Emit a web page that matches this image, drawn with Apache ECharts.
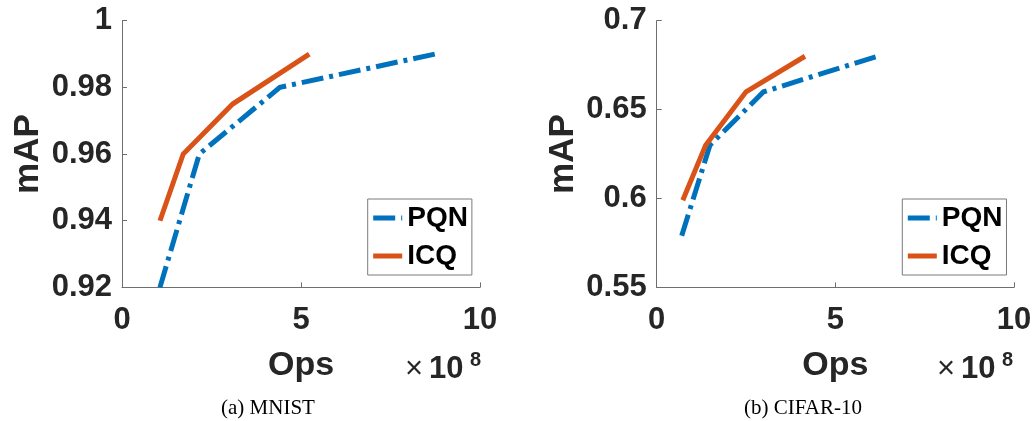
<!DOCTYPE html>
<html>
<head>
<meta charset="utf-8">
<script src="https://cdn.jsdelivr.net/npm/echarts@6/dist/echarts.min.js"></script>
<style>
html,body{margin:0;padding:0;background:#fff;}
#chart{width:1036px;height:421px;}
</style>
</head>
<body>
<div id="chart"></div>
<script>
// ---- data ----
const xTickLabels = ['0', '5', '10'];
const mnistPqnOps = [1.06, 2.16, 4.41, 8.74];
const mnistPqnMap = [0.92, 0.96, 0.98, 0.99];
const mnistIcqOps = [1.06, 1.71, 3.09, 5.23];
const mnistIcqMap = [0.94, 0.96, 0.975, 0.99];
const cifarPqnOps = [0.70, 1.49, 2.99, 6.18];
const cifarPqnMap = [0.579, 0.63, 0.66, 0.68];
const cifarIcqOps = [0.73, 1.37, 2.50, 4.15];
const cifarIcqMap = [0.599, 0.63, 0.66, 0.68];
const seriesNames = ['PQN', 'ICQ'];
const captions = ['(a) MNIST', '(b) CIFAR-10'];

const zip = (a, b) => a.map((v, i) => [v, b[i]]);
const SANS = "'Liberation Sans', Arial, Helvetica, sans-serif";
const TXT = '#262626';
const AX = '#6e6e6e';
const BLUE = '#0072BD';
const ORANGE = '#D95319';
const DASH = [22, 6, 4, 6];
const LW = 5;

function xAxisCfg(gridIndex) {
  return {
    type: 'value', gridIndex, min: 0, max: 10, interval: 5,
    name: 'Ops', nameLocation: 'middle', nameGap: 61,
    nameTextStyle: {fontFamily: SANS, fontWeight: 'bold', fontSize: 34, color: TXT},
    axisLine: {show: true, onZero: false, lineStyle: {color: AX, width: 1}},
    axisTick: {show: true, inside: true, length: 5, lineStyle: {color: AX}},
    axisLabel: {fontFamily: SANS, fontWeight: 'bold', fontSize: 31, color: TXT, margin: 18,
      formatter: v => xTickLabels[Math.round(v / 5)]},
    splitLine: {show: false}
  };
}
function yAxisCfg(gridIndex, min, max, interval) {
  return {
    type: 'value', gridIndex, min, max, interval,
    name: 'mAP', nameLocation: 'middle', nameGap: 76, nameRotate: 90,
    nameTextStyle: {fontFamily: SANS, fontWeight: 'bold', fontSize: 35, color: TXT},
    axisLine: {show: true, onZero: false, lineStyle: {color: AX, width: 1}},
    axisTick: {show: true, inside: true, length: 5, lineStyle: {color: AX}},
    axisLabel: {fontFamily: SANS, fontWeight: 'bold', fontSize: 31, color: TXT, margin: 10,
      formatter: v => String(+v.toFixed(2))},
    splitLine: {show: false}
  };
}
function lineSeries(name, xi, data, color, dashed) {
  return {
    type: 'line', name, xAxisIndex: xi, yAxisIndex: xi, data,
    symbol: 'none', animation: false, silent: true,
    lineStyle: {color, width: LW, type: dashed ? DASH : 'solid', cap: 'butt', join: 'miter'},
    itemStyle: {color}
  };
}
function legendCfg(left) {
  return {
    orient: 'vertical', left, top: 199, data: seriesNames,
    backgroundColor: '#fff', borderColor: '#7a7a7a', borderWidth: 1,
    padding: [5, 4, 5, 3], itemGap: 10, itemWidth: 29, itemHeight: 14,
    selectedMode: false,
    itemStyle: {opacity: 0},
    lineStyle: {width: LW},
    textStyle: {fontFamily: SANS, fontWeight: 'bold', fontSize: 28, color: '#000'}
  };
}
function expo(x10, y) {
  return [
    {type: 'text', left: x10 - 24, top: y - 16, style: {text: '×', font: 'normal 31px ' + SANS, fill: TXT}},
    {type: 'text', left: x10, top: y - 16, style: {text: '10', font: 'bold 31px ' + SANS, fill: TXT}},
    {type: 'text', left: x10 + 41, top: y - 20, style: {text: '8', font: 'bold 20px ' + SANS, fill: TXT}}
  ];
}

const chart = echarts.init(document.getElementById('chart'), null, {renderer: 'canvas'});
chart.setOption({
  animation: false,
  backgroundColor: '#fff',
  grid: [
    {left: 122, top: 20.7, width: 358, height: 266.7},
    {left: 656.7, top: 20.7, width: 357.3, height: 266.7}
  ],
  xAxis: [xAxisCfg(0), xAxisCfg(1)],
  yAxis: [yAxisCfg(0, 0.92, 1, 0.02), yAxisCfg(1, 0.55, 0.7, 0.05)],
  legend: [legendCfg(367.7), legendCfg(902.3)],
  series: [
    lineSeries('PQN', 0, zip(mnistPqnOps, mnistPqnMap), BLUE, true),
    lineSeries('ICQ', 0, zip(mnistIcqOps, mnistIcqMap), ORANGE, false),
    lineSeries('PQN', 1, zip(cifarPqnOps, cifarPqnMap), BLUE, true),
    lineSeries('ICQ', 1, zip(cifarIcqOps, cifarIcqMap), ORANGE, false)
  ],
  graphic: [
    ...expo(429, 370),
    ...expo(961, 370),
    {type: 'text', x: 268, y: 408, style: {text: captions[0], font: 'normal 21px "Liberation Serif", "Times New Roman", serif', fill: '#000', align: 'center', verticalAlign: 'middle'}},
    {type: 'text', x: 803, y: 408, style: {text: captions[1], font: 'normal 21px "Liberation Serif", "Times New Roman", serif', fill: '#000', align: 'center', verticalAlign: 'middle'}}
  ]
});
</script>
</body>
</html>
